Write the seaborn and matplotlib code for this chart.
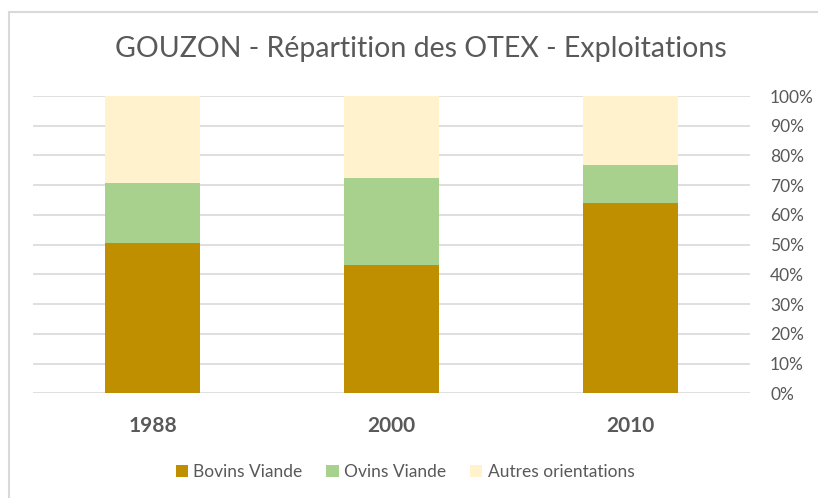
import seaborn as sns
import matplotlib.pyplot as plt
from matplotlib.lines import Line2D
from matplotlib.patches import Patch
import pandas as pd

years = ["1988", "2000", "2010"]
bovins = [50.5, 43.2, 64.0]
ovins = [20.4, 29.2, 12.8]
autres = [29.1, 27.6, 23.2]
series = ["Bovins Viande", "Ovins Viande", "Autres orientations"]
colors = ["#BF8F00", "#A9D18E", "#FFF2CC"]
y_ticks = list(range(0, 101, 10))

sns.set_theme(style="white")
plt.rcParams['font.family'] = ['Lato', 'DejaVu Sans']

df = pd.DataFrame({"year": years, "bovins": bovins, "ovins": ovins, "autres": autres})
df["c1"] = df["bovins"]
df["c2"] = df["bovins"] + df["ovins"]
df["c3"] = df["c2"] + df["autres"]

fig = plt.figure(figsize=(8.18, 4.98), dpi=100)
ax = fig.add_axes([0.0403, 0.2102, 0.8765, 0.597])

# cumulative bars, drawn from the top down so each covers the one behind
for col, color in zip(["c3", "c2", "c1"], colors[::-1]):
    sns.barplot(data=df, x="year", y=col, color=color, width=0.4,
                saturation=1, linewidth=0, ax=ax, zorder=3)

ax.set_ylim(0, 100)
ax.set_xlim(-0.5, 2.5)
ax.set_yticks(y_ticks)
ax.set_yticklabels([f"{t}%" for t in y_ticks])
ax.yaxis.tick_right()
ax.grid(axis="y", color="#D9D9D9", linewidth=1.2, zorder=0)
ax.grid(axis="x", visible=False)
for s in ax.spines.values():
    s.set_visible(False)
ax.tick_params(axis="y", length=0, pad=14.5, labelsize=12.5, labelcolor="#595959")
ax.tick_params(axis="x", length=0, pad=16, labelsize=15, labelcolor="#595959")
for lbl in ax.get_xticklabels():
    lbl.set_fontweight("bold")
ax.set_xlabel("")
ax.set_ylabel("")

fig.text(0.514, 0.902, "GOUZON - Répartition des OTEX - Exploitations",
         ha="center", va="center", fontsize=20.5, color="#595959")

handles = [Patch(facecolor=c, edgecolor="none") for c in colors]
fig.legend(handles, series, loc="center", bbox_to_anchor=(0.495, 0.052),
           ncol=3, frameon=False, fontsize=12.5, labelcolor="#595959",
           handlelength=0.7, handleheight=0.7, handletextpad=0.3, columnspacing=1.4)

# outer chart border (top and left visible)
fig.add_artist(Line2D([9 / 818, 1], [1 - 12 / 498] * 2, color="#D9D9D9", lw=1.5,
                      transform=fig.transFigure))
fig.add_artist(Line2D([9 / 818] * 2, [0, 1 - 12 / 498], color="#D9D9D9", lw=1.5,
                      transform=fig.transFigure))

fig.savefig("out.png", dpi=100)
